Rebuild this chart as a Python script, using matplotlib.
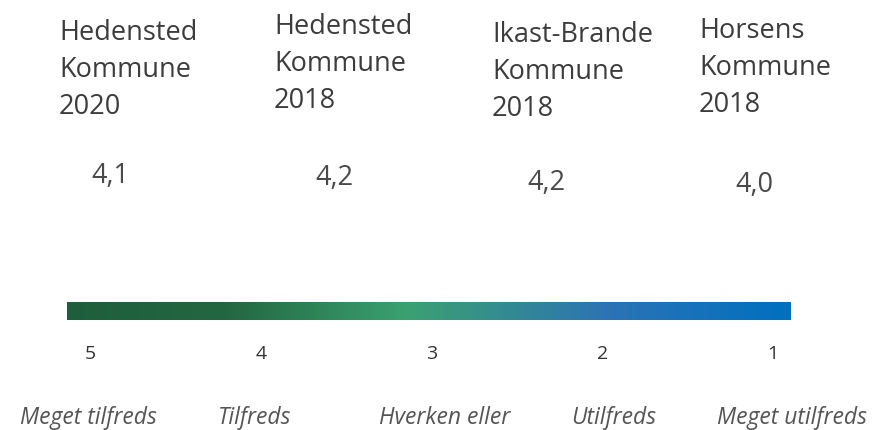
import numpy as np
import matplotlib.pyplot as plt
from matplotlib.colors import LinearSegmentedColormap
import matplotlib.transforms as mtransforms

# data
kommuner = ["Hedensted\nKommune", "Hedensted\nKommune", "Ikast-Brande\nKommune", "Horsens\nKommune"]
aar = [2020, 2018, 2018, 2018]
score = [4.1, 4.2, 4.2, 4.0]
skala = [5, 4, 3, 2, 1]
skala_tekst = ["Meget tilfreds", "Tilfreds", "Hverken eller", "Utilfreds", "Meget utilfreds"]

# layout (pixels)
kort_x = [59, 274, 492, 699]
kort_top = [19, 13, 21, 17]
vaerdi_x = [110, 334, 546, 754]
vaerdi_y = [176, 178, 183, 185]
tekst_x = [88, 255, 445, 614, 792]

plt.rcParams['font.family'] = ['Open Sans', 'DejaVu Sans']

fig = plt.figure(figsize=(8.74, 4.30), dpi=100)
ax = fig.add_axes([0, 0, 1, 1])
ax.set_xlim(0, 874)
ax.set_ylim(430, 0)
ax.axis('off')

for i in range(len(kommuner)):
    ax.text(kort_x[i], kort_top[i], f"{kommuner[i]}\n{aar[i]}", ha='left', va='top',
            fontsize=19.5, color='#3c3c3c', linespacing=1.43)
    ax.text(vaerdi_x[i], vaerdi_y[i], f"{score[i]:.1f}".replace('.', ','), ha='center', va='center',
            fontsize=19.5, color='#4a4a4a')

# farveskala
cmap = LinearSegmentedColormap.from_list('skala', [
    (0.0, '#1f5e3c'), (0.22, '#236740'), (0.47, '#3ba171'), (0.75, '#2c73b5'), (1.0, '#0070c0')])
ax_bar = fig.add_axes([67/874, 1 - 320/430, (791 - 67)/874, 18/430])
ax_bar.imshow(np.linspace(0, 1, 256).reshape(1, -1), aspect='auto', cmap=cmap,
              extent=(5.135, 0.895, 0, 1))
ax_bar.set_xlim(5.135, 0.895)
ax_bar.axis('off')

trans = mtransforms.blended_transform_factory(ax_bar.transData, ax.transData)
for v in skala:
    ax_bar.text(v, 354, str(v), transform=trans, ha='center', va='center',
                fontsize=14, color='#333333', clip_on=False)

for i in range(len(skala_tekst)):
    ax.text(tekst_x[i], 418, skala_tekst[i], ha='center', va='center',
            fontsize=16.5, style='italic', color='#555555')

fig.savefig('out.png', dpi=100)
